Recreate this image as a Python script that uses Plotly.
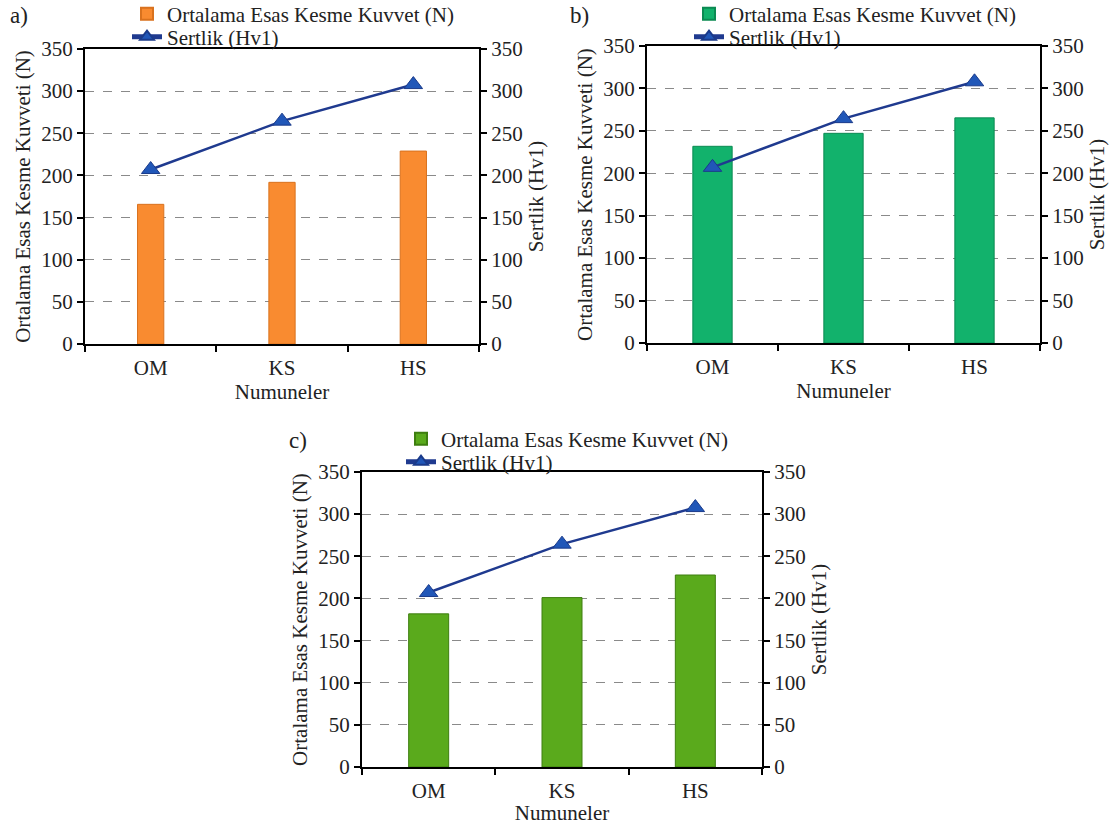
import plotly.graph_objects as go

categories = ["OM", "KS", "HS"]
force_a = [165.7, 191.8, 228.9]
force_b = [231.8, 247.1, 265.3]
force_c = [181.7, 201.0, 227.8]
hardness = [207, 264.4, 307.8]
y_ticks = [0, 50, 100, 150, 200, 250, 300, 350]

bar_name = "Ortalama Esas Kesme Kuvvet (N)"
line_name = "Sertlik (Hv1)"
ytitle = "Ortalama Esas Kesme Kuvveti (N)"
y2title = "Sertlik (Hv1)"
xtitle = "Numuneler"

W, H = 1118, 825
FONT = "Liberation Serif, Times New Roman, serif"
TXT = "#222"

panels = [
    dict(label="a)", force=force_a, color="#F98B30", edge="#D9721E", bw=0.2,
         px=(85, 479), py=(49, 344), legx=127, legy=(14, 37), lab=(8, 15), xst=0),
    dict(label="b)", force=force_b, color="#12B26C", edge="#0B8A52", bw=0.3,
         px=(647, 1040), py=(46, 343), legx=689, legy=(14, 37), lab=(568, 15), xst=0),
    dict(label="c)", force=force_c, color="#5AAA1C", edge="#3E7E10", bw=0.3,
         px=(362, 762), py=(472, 767), legx=401, legy=(439, 462), lab=(287, 440), xst=0),
]

fig = go.Figure()
annotations = []
for i, p in enumerate(panels):
    n = i + 1
    xa = "x" if n == 1 else f"x{n}"
    ya = f"y{2*n-1}" if n > 1 else "y"
    yb = f"y{2*n}"
    leg1 = "legend" if n == 1 else f"legend{2*n-1}"
    leg2 = f"legend{2*n}"
    fig.add_trace(go.Bar(x=categories, y=p["force"], name=bar_name, width=p["bw"],
                         marker=dict(color=p["color"], line=dict(color=p["edge"], width=1)),
                         xaxis=xa, yaxis=ya, legend=leg1))
    fig.add_trace(go.Scatter(x=categories, y=hardness, name=line_name, mode="lines+markers",
                             line=dict(color="#1F3A8F", width=2.5),
                             marker=dict(symbol="triangle-up", size=16, color="#2157B8",
                                         line=dict(color="#1A3A8A", width=1)),
                             xaxis=xa, yaxis=yb, legend=leg2))
    xd = [p["px"][0] / W, p["px"][1] / W]
    yd = [1 - p["py"][1] / H, 1 - p["py"][0] / H]
    xkey = "xaxis" if n == 1 else f"xaxis{n}"
    yakey = "yaxis" if n == 1 else f"yaxis{2*n-1}"
    ybkey = f"yaxis{2*n}"
    yanchor_name = "y" if n == 1 else f"y{2*n-1}"
    fig.layout[xkey] = dict(domain=xd, anchor=yanchor_name, showline=True, linecolor="black",
                            linewidth=2, mirror=True, ticks="outside", tickson="boundaries",
                            ticklen=6, tickwidth=2, tickcolor="black", ticklabelstandoff=4,
                            title=dict(text=xtitle, standoff=p["xst"], font=dict(size=21, family=FONT, color=TXT)),
                            tickfont=dict(size=21, family=FONT, color=TXT), showgrid=False)
    fig.layout[yakey] = dict(domain=yd, anchor=xa, range=[0, 350], tickvals=y_ticks,
                             showline=True, linecolor="black", linewidth=2, ticks="outside",
                             ticklen=6, tickwidth=2, tickcolor="black",
                             showgrid=True, gridcolor="#8A8A8A", griddash="dash", gridwidth=1,
                             zeroline=False,
                             title=dict(text=ytitle, standoff=5, font=dict(size=21, family=FONT, color=TXT)),
                             tickfont=dict(size=21, family=FONT, color=TXT))
    fig.layout[ybkey] = dict(domain=yd, anchor=xa, overlaying=yanchor_name, side="right",
                             range=[0, 350], tickvals=y_ticks, showline=True, linecolor="black",
                             linewidth=2, ticks="outside", ticklen=6, tickwidth=2, tickcolor="black",
                             showgrid=False, zeroline=False,
                             title=dict(text=y2title, standoff=7, font=dict(size=21, family=FONT, color=TXT)),
                             tickfont=dict(size=21, family=FONT, color=TXT))
    for lg, ly in ((leg1, p["legy"][0]), (leg2, p["legy"][1])):
        fig.layout[lg] = dict(x=p["legx"] / W, y=1 - ly / H, xanchor="left", yanchor="middle",
                              bgcolor="rgba(0,0,0,0)", font=dict(size=21, family=FONT, color=TXT),
                              itemsizing="constant")
    annotations.append(dict(text=p["label"], x=p["lab"][0] / W, y=1 - p["lab"][1] / H,
                            xref="paper", yref="paper", xanchor="left", yanchor="middle",
                            showarrow=False, font=dict(size=23, family=FONT, color=TXT)))

fig.update_layout(width=W, height=H, margin=dict(l=0, r=0, t=0, b=0, autoexpand=False),
                  paper_bgcolor="white", plot_bgcolor="white", showlegend=True,
                  annotations=annotations, font=dict(family=FONT))
fig.write_html("out.html")
